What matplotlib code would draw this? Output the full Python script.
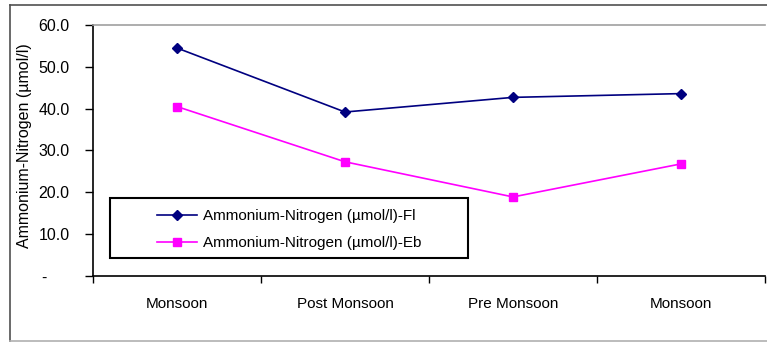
import matplotlib.pyplot as plt
from matplotlib.lines import Line2D
from matplotlib.patches import Rectangle

plt.rcParams['font.family'] = ['Liberation Sans', 'DejaVu Sans']

# ── data ─────────────────────────────────────────────────────────────────────
seasons = ["Monsoon", "Post Monsoon", "Pre Monsoon", "Monsoon"]
fl_vals = [54.5, 39.2, 42.7, 43.6]
eb_vals = [40.5, 27.3, 18.9, 26.8]
y_ticks = [0, 10, 20, 30, 40, 50, 60]
y_labels = ["-     ", "10.0", "20.0", "30.0", "40.0", "50.0", "60.0"]

W, H = 767, 343
fig = plt.figure(figsize=(W / 100, H / 100), dpi=100)


def fx(px):
    return px / W


def fy(py):
    return 1 - py / H


# outer chart border (right side runs off the picture)
fig.add_artist(Line2D([fx(10), 1], [fy(5), fy(5)], transform=fig.transFigure,
                      color='#505050', lw=1.2))
fig.add_artist(Line2D([fx(10), fx(10)], [fy(5), fy(341)], transform=fig.transFigure,
                      color='#505050', lw=1.2))
fig.add_artist(Line2D([fx(10), 1], [fy(341), fy(341)], transform=fig.transFigure,
                      color='#b0b0b0', lw=1.2))

# plot area: x 93..765, y 25..276 px
ax = fig.add_axes([fx(93), fy(276), 672 / W, 251 / H])

x = [i + 0.5 for i in range(len(seasons))]
ax.plot(x, fl_vals, color='#000080', lw=1.2, marker='D', ms=5,
        label="Ammonium-Nitrogen (µmol/l)-Fl")
ax.plot(x, eb_vals, color='#FF00FF', lw=1.2, marker='s', ms=5.5,
        label="Ammonium-Nitrogen (µmol/l)-Eb")

ax.set_xlim(0, 4)
ax.set_ylim(0, 60)

ax.set_yticks(y_ticks)
ax.set_yticklabels(y_labels)
ax.set_xticks(range(5))
ax.set_xticklabels([])
ax.set_xticks(x, minor=True)
ax.set_xticklabels(seasons, minor=True)
ax.tick_params(axis='x', which='minor', length=0, pad=15, labelsize=11)
ax.tick_params(axis='x', which='major', length=5, width=1, direction='out')
ax.tick_params(axis='y', length=6, width=1, direction='out', pad=11, labelsize=11.5)

ax.spines['right'].set_visible(False)
ax.spines['top'].set_color('#a0a0a0')
ax.spines['top'].set_linewidth(1.2)
ax.spines['left'].set_linewidth(1.2)
ax.spines['bottom'].set_linewidth(1.2)

fig.text(fx(25), fy(146), "Ammonium-Nitrogen (µmol/l)", rotation=90,
         ha='center', va='center', fontsize=11.5)

# legend box drawn by hand, entries placed inside it
fig.add_artist(Rectangle((fx(110), fy(258)), fx(468) - fx(110), fy(198) - fy(258),
                         transform=fig.transFigure, fill=False,
                         edgecolor='black', lw=1.5))
ax.legend(loc='upper left', bbox_to_anchor=(fx(157), fy(209)),
          bbox_transform=fig.transFigure, fontsize=11, frameon=False,
          borderpad=0, borderaxespad=0, handlelength=2.6,
          handletextpad=0.4, labelspacing=0.85)

fig.savefig("out.png", dpi=100)
